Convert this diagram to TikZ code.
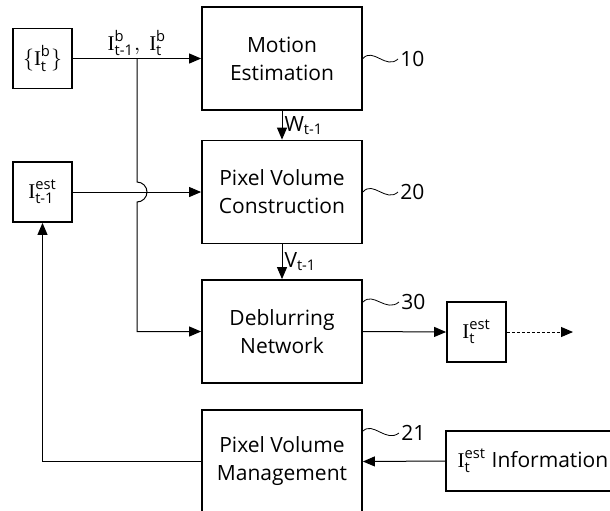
\documentclass[tikz,border=0pt]{standalone}
\usepackage{amsmath}
\usepackage{fontspec}
\setmainfont{Open Sans}
\newfontfamily\ifnt{Liberation Serif}
\usepackage{tikz}
\usetikzlibrary{
  arrows.meta,
  positioning,
  calc
}
\newcommand{\Ig}{\text{\ifnt I}}
\tikzset{
  block/.style={
    rectangle, draw, line width=0.9pt,
    minimum width=80pt, minimum height=51.5pt,
    font=\fontsize{10.5}{14}\selectfont, align=center, inner sep=0pt
  },
  smallbox/.style={
    rectangle, draw, line width=0.9pt,
    minimum width=29.5pt, minimum height=30pt,
    font=\fontsize{10.5}{14}\selectfont, align=center, inner sep=0pt
  },
  arrow/.style={-{Triangle[length=6pt, width=5pt]}, line width=0.5pt},
  squiggle/.style={line width=0.4pt},
  refnum/.style={font=\fontsize{10.5}{14}\selectfont, anchor=west, inner sep=1pt},
  sig/.style={font=\fontsize{10.5}{14}\selectfont, inner sep=1pt},
}

\begin{document}
\begin{tikzpicture}[x=0.5pt, y=-0.5pt]
\clip (0,0) rectangle (610,510);

% Main processing chain
\node[block] (motion) at (282, 58.5) {Motion\\Estimation};
\node[block] (pvc) at (282, 192) {Pixel Volume\\Construction};
\node[block] (deblur) at (282, 331.5) {Deblurring\\Network};
\node[block] (pvm) at (282, 461.5) {Pixel Volume\\Management};

% Inputs and outputs
\node[smallbox] (framesIn) at (42.5, 58.5) {$\{\Ig^{\text{b}}_{\text{t}}\}$};
\node[smallbox] (prevEst) at (42.5, 192) {$\Ig^{\text{est}}_{\text{t-1}}$};
\node[smallbox] (curEst) at (476.5, 332) {$\Ig^{\text{est}}_{\text{t}}$};
\node[smallbox, minimum width=87pt] (info) at (533, 461) {$\Ig^{\text{est}}_{\text{t}}$ Information};
\coordinate (outEnd) at (573, 332);
\coordinate (split) at (137, 58.5);

% Reference numerals
\node[refnum] (ref10) at (398, 59) {10};
\node[refnum] (ref20) at (398, 192) {20};
\node[refnum] (ref30) at (399, 302) {30};
\node[refnum] (ref21) at (399, 433) {21};

\draw[squiggle] (motion.east) .. controls (373,47) and (386,70) .. (ref10.west);
\draw[squiggle] (pvc.east) .. controls (373,180) and (386,203) .. (ref20.west);
\draw[squiggle] ($(deblur.north east)!0.22!(deblur.south east)$) .. controls (373,291) and (386,313) .. (ref30.west);
\draw[squiggle] ($(pvm.north east)!0.21!(pvm.south east)$) .. controls (373,421) and (386,443) .. (ref21.west);

% Signal flow
\draw[arrow] (framesIn.east) -- node[sig, midway, above] {$\Ig^{\text{b}}_{\text{t-1}},\ \Ig^{\text{b}}_{\text{t}}$} (motion.west);
\draw[arrow] (motion.south) -- node[sig, midway, right] {W$_{\text{t-1}}$} (pvc.north);
\draw[arrow] (pvc.south) -- node[sig, midway, right] {V$_{\text{t-1}}$} (deblur.north);
\draw[arrow] (prevEst.east) -- (pvc.west);
\draw[arrow] (split) -- ($(split |- prevEst.east)+(0,-10)$)
  arc[start angle=90, end angle=-90, radius=5pt]
  -- (split |- deblur.west) -- (deblur.west);
\draw[arrow] (deblur.east) -- (curEst.west);
\draw[arrow, dash pattern=on 1.5pt off 1pt] (curEst.east) -- (outEnd);
\draw[arrow] (info.west) -- (pvm.east);
\draw[arrow] (pvm.west) -| (prevEst.south);

\end{tikzpicture}
\end{document}
